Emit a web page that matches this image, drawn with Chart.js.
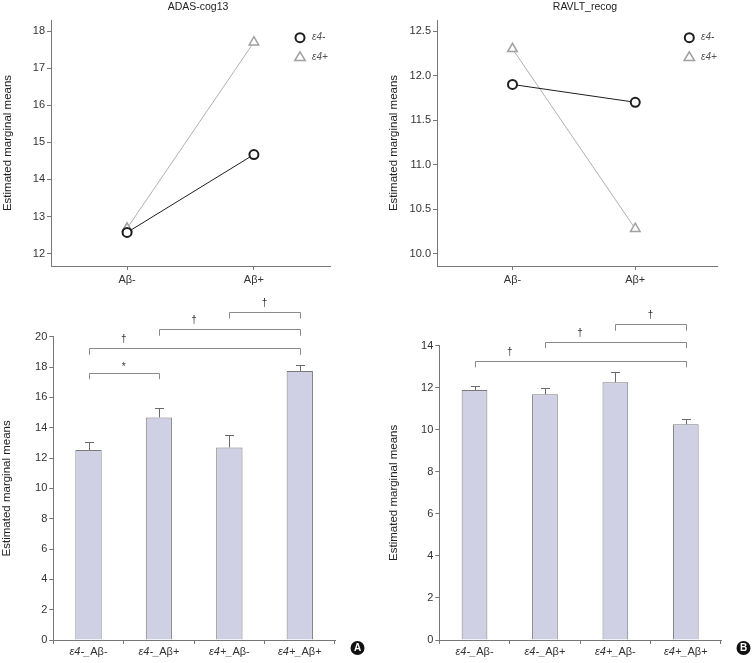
<!DOCTYPE html>
<html><head><meta charset="utf-8">
<script src="https://cdn.jsdelivr.net/npm/chart.js@4/dist/chart.umd.min.js"></script>
<style>
html,body{margin:0;padding:0;background:#fff;}
#wrap{position:relative;width:754px;height:663px;overflow:hidden;}
.p{position:absolute;}
</style></head><body>
<div id="wrap">
<div class="p" style="left:0;top:0;width:377px;height:290px"><canvas id="c1"></canvas></div>
<div class="p" style="left:377px;top:0;width:377px;height:290px"><canvas id="c2"></canvas></div>
<div class="p" style="left:0;top:290px;width:377px;height:373px"><canvas id="c3"></canvas></div>
<div class="p" style="left:377px;top:290px;width:377px;height:373px"><canvas id="c4"></canvas></div>
</div>
<script>
// ---------- data ----------
const lineCategories = ['Aβ-', 'Aβ+'];
const seriesNames = ['ε4-', 'ε4+'];
const adasE4neg = [12.57, 14.67];
const adasE4pos = [12.68, 17.70];
const ravltE4neg = [11.90, 11.70];
const ravltE4pos = [12.30, 10.28];
const adasLineTicks = [12, 13, 14, 15, 16, 17, 18];
const ravltLineTicks = [10.0, 10.5, 11.0, 11.5, 12.0, 12.5];

const barCategories = ['ε4-_Aβ-', 'ε4-_Aβ+', 'ε4+_Aβ-', 'ε4+_Aβ+'];
const adasBarMeans = [12.53, 14.68, 12.70, 17.73];
const adasBarErrTop = [13.03, 15.31, 13.51, 18.13];
const ravltBarMeans = [11.89, 11.69, 12.26, 10.26];
const ravltBarErrTop = [12.10, 12.00, 12.73, 10.50];
const adasBarTicks = [0, 2, 4, 6, 8, 10, 12, 14, 16, 18, 20];
const ravltBarTicks = [0, 2, 4, 6, 8, 10, 12, 14];

// significance brackets: [fromIndex, toIndex, level, legEnd, mark, markPos]
const adasBrackets = [
  [0, 1, 17.58, 17.20, '*', 0.5],
  [0, 3, 19.23, 18.80, '†', 0.5],
  [1, 3, 20.48, 20.06, '†', 1.5],
  [2, 3, 21.62, 21.20, '†', 2.5]
];
const ravltBrackets = [
  [0, 3, 13.29, 12.97, '†', 0.5],
  [1, 3, 14.19, 13.88, '†', 1.5],
  [2, 3, 15.02, 14.71, '†', 2.5]
];

// ---------- styling ----------
const FONT = "'Liberation Sans Narrow','Arial Narrow','Liberation Sans',Arial,sans-serif";
Chart.defaults.font.family = FONT;
Chart.defaults.color = '#333';
const AXIS = '#777';

const decor = {
  id: 'decor',
  afterDatasetsDraw(chart, args, o) {
    const ctx = chart.ctx, xs = chart.scales.x, ys = chart.scales.y;
    ctx.save();
    if (o.errTop) {
      const meta = chart.getDatasetMeta(0);
      ctx.strokeStyle = '#6a6a6a'; ctx.lineWidth = 1;
      o.errTop.forEach((v, i) => {
        const el = meta.data[i];
        const bx = Math.round(el.x) + 0.5;
        const yt = Math.round(ys.getPixelForValue(v)) + 0.5;
        ctx.beginPath();
        ctx.moveTo(bx, el.y); ctx.lineTo(bx, yt);
        ctx.moveTo(bx - 4.5, yt); ctx.lineTo(bx + 4.5, yt);
        ctx.stroke();
      });
    }
    if (o.brackets) {
      ctx.strokeStyle = '#8a8a8a'; ctx.lineWidth = 1;
      o.brackets.forEach(b => {
        const x1 = Math.round(xs.getPixelForValue(b[0])) + 0.5;
        const x2 = Math.round(xs.getPixelForValue(b[1])) + 0.5;
        const yl = Math.round(ys.getPixelForValue(b[2])) + 0.5;
        const yg = ys.getPixelForValue(b[3]);
        ctx.beginPath();
        ctx.moveTo(x1, yg); ctx.lineTo(x1, yl); ctx.lineTo(x2, yl); ctx.lineTo(x2, yg);
        ctx.stroke();
        ctx.fillStyle = '#333';
        ctx.font = '10px ' + FONT;
        ctx.textAlign = 'center'; ctx.textBaseline = 'middle';
        ctx.fillText(b[4], xs.getPixelForValue(b[5]), yl - (b[4] === '*' ? 6 : 9));
      });
    }
    ctx.restore();
  },
  afterDraw(chart, args, o) {
    const ctx = chart.ctx, xs = chart.scales.x;
    ctx.save();
    if (o.title) {
      ctx.fillStyle = '#222'; ctx.font = '10.5px ' + FONT;
      ctx.textAlign = 'center'; ctx.textBaseline = 'middle';
      ctx.fillText(o.title.text, o.title.x, o.title.y);
    }
    if (o.legend) {
      const L = o.legend;
      ctx.lineWidth = 2; ctx.strokeStyle = '#1e1e1e'; ctx.fillStyle = '#fff';
      ctx.beginPath(); ctx.arc(L.x, L.y0, 4.5, 0, Math.PI * 2); ctx.fill(); ctx.stroke();
      ctx.lineWidth = 1.5; ctx.strokeStyle = '#a0a0a0';
      const r = 5.5;
      ctx.beginPath();
      ctx.moveTo(L.x, L.y1 - r);
      ctx.lineTo(L.x + r * 0.95, L.y1 + r * 0.6);
      ctx.lineTo(L.x - r * 0.95, L.y1 + r * 0.6);
      ctx.closePath(); ctx.fill(); ctx.stroke();
      ctx.fillStyle = '#555'; ctx.font = 'italic 10px ' + FONT;
      ctx.textAlign = 'left'; ctx.textBaseline = 'middle';
      ctx.fillText(seriesNames[0], L.tx, L.y0);
      ctx.fillText(seriesNames[1], L.tx, L.y1);
    }
    if (o.xLabels) {
      ctx.fillStyle = '#333'; ctx.textBaseline = 'middle'; ctx.textAlign = 'left';
      barCategories.forEach((lab, i) => {
        const k = lab.indexOf('_') + 1;
        const p1 = lab.slice(0, k), p2 = lab.slice(k);
        const f1 = 'italic 11px ' + FONT, f2 = '11px ' + FONT;
        ctx.font = f1; const w1 = ctx.measureText(p1).width;
        ctx.font = f2; const w2 = ctx.measureText(p2).width;
        const cx = xs.getPixelForValue(i);
        const sx = cx - (w1 + w2) / 2;
        ctx.font = f1; ctx.fillText(p1, sx, o.xLabels.y);
        ctx.font = f2; ctx.fillText(p2, sx + w1, o.xLabels.y);
      });
    }
    if (o.tag) {
      ctx.fillStyle = '#111';
      ctx.beginPath(); ctx.arc(o.tag.x, o.tag.y, 7, 0, Math.PI * 2); ctx.fill();
      ctx.fillStyle = '#fff'; ctx.font = 'bold 10px ' + FONT;
      ctx.textAlign = 'center'; ctx.textBaseline = 'middle';
      ctx.fillText(o.tag.text, o.tag.x, o.tag.y + 0.5);
    }
    ctx.restore();
  }
};

function yTitle(pad) {
  return { display: true, text: 'Estimated marginal means', color: '#222',
           font: { size: 11.5 }, padding: { top: pad, bottom: 0 } };
}

function makeLine(id, c) {
  return new Chart(document.getElementById(id), {
    type: 'line',
    data: { datasets: [
      { label: seriesNames[0], data: c.neg.map((v, i) => ({ x: i, y: v })),
        borderColor: '#1e1e1e', borderWidth: 1, pointStyle: 'circle', pointRadius: 4.5,
        pointBorderWidth: 2, pointBorderColor: '#1e1e1e', pointBackgroundColor: '#fff' },
      { label: seriesNames[1], data: c.pos.map((v, i) => ({ x: i, y: v })),
        borderColor: '#b0b0b0', borderWidth: 1, pointStyle: 'triangle', pointRadius: 5.5,
        pointBorderWidth: 1.5, pointBorderColor: '#a0a0a0', pointBackgroundColor: '#fff' }
    ]},
    options: {
      responsive: true, maintainAspectRatio: false, animation: false, events: [],
      layout: { padding: c.pad },
      plugins: { legend: { display: false }, tooltip: { enabled: false },
        decor: { title: c.title, legend: c.legend } },
      scales: {
        x: { type: 'linear', min: c.xMin, max: c.xMax,
          afterBuildTicks: s => { s.ticks = lineCategories.map((_, i) => ({ value: i })); },
          afterFit: s => { s.height = 24; },
          grid: { drawOnChartArea: false, tickLength: 4, color: AXIS },
          border: { color: AXIS },
          ticks: { callback: v => lineCategories[v], font: { size: 11 }, padding: 3, maxRotation: 0, autoSkip: false } },
        y: { min: c.yMin, max: c.yMax,
          afterBuildTicks: s => { s.ticks = c.yTicks.map(v => ({ value: v })); },
          afterFit: s => { s.width = c.yWidth; },
          grid: { drawOnChartArea: false, tickLength: 4, color: AXIS },
          border: { color: AXIS },
          ticks: { callback: v => c.fmt(v), font: { size: 11 }, padding: 2 },
          title: yTitle(c.titlePad) }
      }
    },
    plugins: [decor]
  });
}

function makeBar(id, c) {
  return new Chart(document.getElementById(id), {
    type: 'bar',
    data: { labels: barCategories, datasets: [
      { data: c.means, backgroundColor: '#d0d0e5', borderColor: '#7a7a7a', borderWidth: 1,
        barPercentage: c.barPct, categoryPercentage: 1 }
    ]},
    options: {
      responsive: true, maintainAspectRatio: false, animation: false, events: [],
      layout: { padding: c.pad },
      plugins: { legend: { display: false }, tooltip: { enabled: false },
        decor: { errTop: c.errTop, brackets: c.brackets, xLabels: { y: 361.7 }, tag: c.tag } },
      scales: {
        x: { afterFit: s => { s.height = 23; },
          grid: { drawOnChartArea: false, tickLength: 4, color: AXIS, offset: true },
          border: { color: AXIS },
          ticks: { display: false } },
        y: { min: 0, max: c.yMax,
          afterBuildTicks: s => { s.ticks = c.yTicks.map(v => ({ value: v })); },
          afterFit: s => { s.width = c.yWidth; },
          grid: { drawOnChartArea: false, tickLength: 4, color: AXIS },
          border: { color: AXIS },
          ticks: { font: { size: 11 }, padding: 2 },
          title: yTitle(c.titlePad) }
      }
    },
    plugins: [decor]
  });
}

makeLine('c1', { neg: adasE4neg, pos: adasE4pos, yTicks: adasLineTicks, fmt: v => String(v),
  yMin: 11.665, yMax: 18.297, xMin: -0.6, xMax: 1.6,
  pad: { left: 0, right: 47, top: 20, bottom: 0 }, yWidth: 51, titlePad: 1.2,
  title: { text: 'ADAS-cog13', x: 198, y: 7.5 },
  legend: { x: 300, y0: 37.7, y1: 57.3, tx: 312 } });

makeLine('c2', { neg: ravltE4neg, pos: ravltE4pos, yTicks: ravltLineTicks, fmt: v => v.toFixed(1),
  yMin: 9.861, yMax: 12.624, xMin: -0.615, xMax: 1.666,
  pad: { left: 0, right: 37, top: 20, bottom: 0 }, yWidth: 60, titlePad: 9.8,
  title: { text: 'RAVLT_recog', x: 208, y: 7.5 },
  legend: { x: 312.3, y0: 37.7, y1: 57.3, tx: 324 } });

makeBar('c3', { means: adasBarMeans, errTop: adasBarErrTop, brackets: adasBrackets,
  yTicks: adasBarTicks, yMax: 20, barPct: 0.374,
  pad: { left: 0, right: 42, top: 46.7, bottom: 0 }, yWidth: 53.3, titlePad: 0.4,
  tag: { text: 'A', x: 357.5, y: 358 } });

makeBar('c4', { means: ravltBarMeans, errTop: ravltBarErrTop, brackets: ravltBrackets,
  yTicks: ravltBarTicks, yMax: 14, barPct: 0.365,
  pad: { left: 0, right: 33, top: 55.7, bottom: 0 }, yWidth: 62.3, titlePad: 9.8,
  tag: { text: 'B', x: 366.5, y: 358 } });
</script>
</body></html>
